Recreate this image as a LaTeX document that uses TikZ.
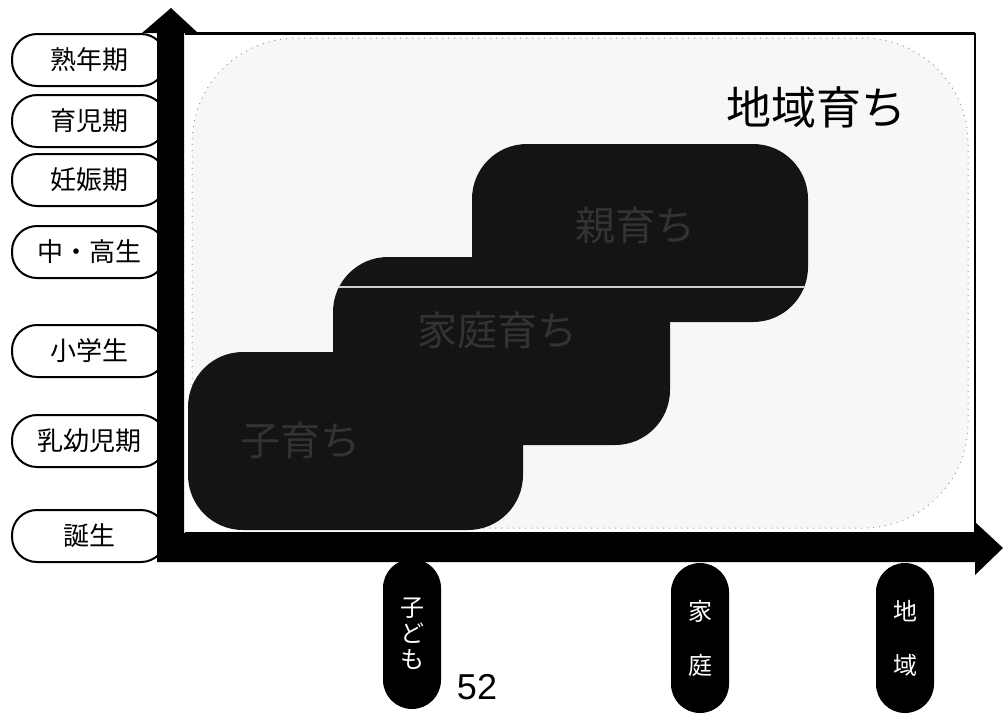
\documentclass[tikz,border=0pt]{standalone}
\usepackage{fontspec}
\setmainfont{Liberation Sans}
\newfontfamily\jp{Noto Sans CJK JP}
\begin{document}
\begin{tikzpicture}[x=1pt,y=-1pt,
  stage/.style={draw=black, line width=2, fill=white, rounded corners=25,
    minimum width=154, minimum height=52, inner sep=0,
    font=\jp\fontsize{26}{26}\selectfont},
  darkbox/.style={fill=black!92, draw=none, rounded corners=55, inner sep=0},
  darktext/.style={text=black!80, font=\jp\fontsize{40}{40}\selectfont, inner sep=0},
  pill/.style={fill=black, draw=none, rounded corners=29, minimum width=58,
    minimum height=150, inner sep=0, text=white, align=center,
    font=\jp\fontsize{24}{24}\selectfont},
  axis/.style={fill=black, draw=none}
]
\useasboundingbox (0,0) rectangle (1003,713);
\fill[white] (0,0) rectangle (1003,713);

% light background region
\node[draw=black!40, dash pattern=on 1pt off 5pt, line width=1, fill=black!3,
  rounded corners=105, minimum width=776, minimum height=490, inner sep=0]
  (area) at (580,283) {};
\node[font=\jp\fontsize{45}{45}\selectfont, inner sep=0] (areatxt) at (816,107) {地域育ち};

% dark stair boxes
\node[darkbox, minimum width=336, minimum height=178] (top) at (640,233) {};
\node[darkbox, minimum width=337, minimum height=188] (mid) at (501.5,351) {};
\node[darkbox, minimum width=335, minimum height=178] (bot) at (355.5,441) {};
\draw[white!82!black, line width=2] (338,287) -- (805,287);
\node[darktext] (toptxt) at (635,225) {親育ち};
\node[darktext] (midtxt) at (497,330) {家庭育ち};
\node[darktext] (bottxt) at (300,440) {子育ち};

% frame
\draw[line width=1.5] (185,533) -- (975,533) -- (975,33);
\draw[line width=3] (185,33) -- (975,33);

% left stage labels
\node[stage] (s1) at (89,60) {熟年期};
\node[stage] (s2) at (89,121) {育児期};
\node[stage] (s3) at (89,180) {妊娠期};
\node[stage] (s4) at (89,252) {中・高生};
\node[stage] (s5) at (89,351) {小学生};
\node[stage] (s6) at (89,441) {乳幼児期};
\node[stage] (s7) at (89,536) {誕生};

% bottom labels
\node[pill] (p1) at (412,634) {子\\[2pt]ど\\[2pt]も};
\node[pill] (p2) at (700,638) {家\\[30pt]庭};
\node[pill] (p3) at (905,638) {地\\[30pt]域};
\node[font=\fontsize{36}{36}\selectfont, inner sep=0] (num) at (477,687) {52};

% axes
\fill[axis] (157,562) -- (157,33) -- (142,33) -- (171,8) -- (198,33) -- (184,33)
  -- (184,533) -- (975,533) -- (975,522) -- (1003,548) -- (975,575) -- (975,562) -- cycle;
\end{tikzpicture}
\end{document}
